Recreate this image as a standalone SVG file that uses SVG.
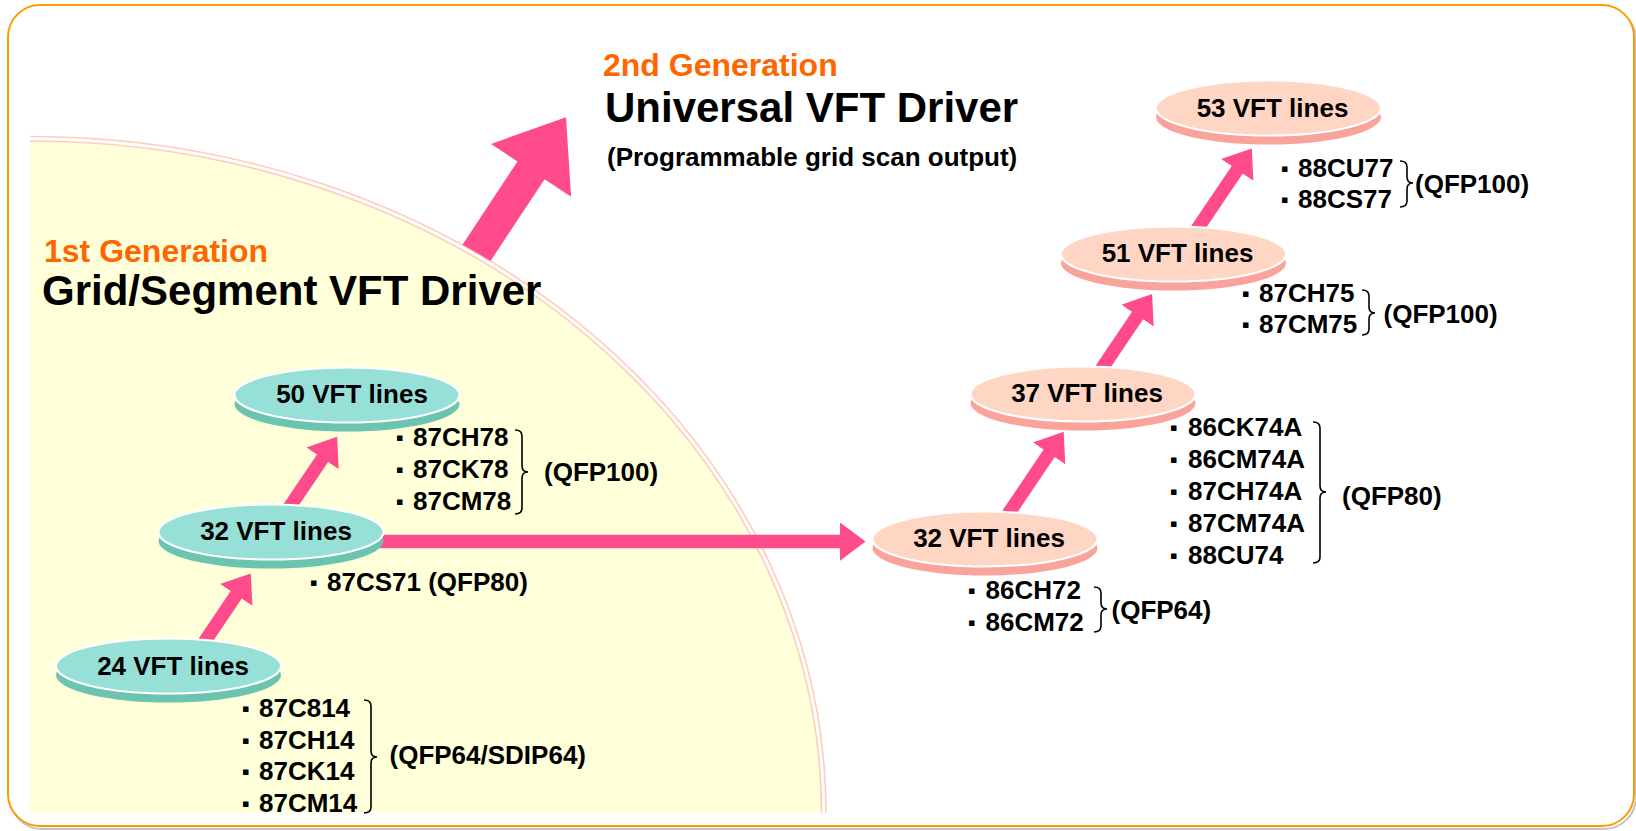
<svg xmlns="http://www.w3.org/2000/svg" width="1636" height="831" viewBox="0 0 1636 831">
<style>
.t{font-family:"Liberation Sans",Arial,Helvetica,sans-serif;font-weight:bold;fill:#000}
.gen{font-size:32px;fill:#FF6600}
.title{font-size:42px}
.sub{font-size:26px}
.nt{font-size:26px;text-anchor:middle}
.it{font-size:26px}
.b{font-family:"DejaVu Sans",sans-serif;font-size:11px;font-weight:normal}
.brace{fill:none;stroke:#000;stroke-width:1.6}
.teal .face{fill:#97E0D7;stroke:#fff;stroke-width:2}
.teal .base{fill:#6AC4AF}
.peach .face{fill:#FFD6C3;stroke:#fff;stroke-width:2}
.peach .base{fill:#FAA39B}
.conn{stroke:#FF4B8C;stroke-width:13.4;fill:none;marker-end:url(#head)}
.arc{fill:none;stroke:#FFCDBE;stroke-width:1.6}
</style>
<defs>
<marker id="head" markerUnits="userSpaceOnUse" markerWidth="30" markerHeight="44" viewBox="0 -22 30 44" refX="1" refY="0" orient="auto">
<path d="M0,-19.5 L26,0 L0,19.5 Z" fill="#FF4B8C"/>
</marker>
</defs>

<g id="frame">
<rect x="10" y="8" width="1626" height="821" rx="32" fill="none" stroke="#C4C4C4" stroke-width="2"/>
<rect x="8" y="5" width="1626" height="821" rx="32" fill="#fff" stroke="#FF9A00" stroke-width="2"/>
</g>

<g id="gen1-area">
<path d="M30,813 L30,140.5 A791.5,672.5 0 0 1 821.5,813 Z" fill="#FFFFD9"/>
<path class="arc" d="M30,136.5 A796,677 0 0 1 826,813"/>
<path class="arc" d="M30,141 A791.5,672.5 0 0 1 821.5,813"/>
</g>

<g id="titles" class="t">
<text class="t gen" x="603" y="76">2nd Generation</text>
<text class="t title" x="605" y="122">Universal VFT Driver</text>
<text class="t sub" x="607" y="166">(Programmable grid scan output)</text>
<text class="t gen" x="44" y="262">1st Generation</text>
<text class="t title" x="42" y="305">Grid/Segment VFT Driver</text>
</g>

<g id="connectors">
<path d="M566,117.3 L571.1,196.7 L544.6,179.2 L490.6,260.9 A796,677 0 0 0 462.5,244.7 L517.5,161.4 L491,143.9 Z" fill="#FF4B8C"/>
<line class="conn" x1="195.6" y1="655" x2="236.8" y2="594.1"/>
<line class="conn" x1="279.4" y1="522.1" x2="323.1" y2="457.5"/>
<line class="conn" x1="375" y1="541.5" x2="840.5" y2="541.5"/>
<line class="conn" x1="998.8" y1="527.9" x2="1049.7" y2="452.5"/>
<line class="conn" x1="1092.2" y1="382.7" x2="1138.1" y2="314.8"/>
<line class="conn" x1="1187.4" y1="243.6" x2="1237.8" y2="169.1"/>
</g>

<g id="node-24" class="teal">
<ellipse class="base" cx="168.5" cy="675" rx="112.5" ry="27.5"/>
<ellipse class="face" cx="168.5" cy="666" rx="112.5" ry="27.5"/>
<text class="t nt" x="173" y="674.5">24 VFT lines</text>
</g>
<g id="node-32a" class="teal">
<ellipse class="base" cx="271" cy="541" rx="112.5" ry="27.5"/>
<ellipse class="face" cx="271" cy="532" rx="112.5" ry="27.5"/>
<text class="t nt" x="276" y="539.5">32 VFT lines</text>
</g>
<g id="node-50" class="teal">
<ellipse class="base" cx="347" cy="404" rx="112.5" ry="27.5"/>
<ellipse class="face" cx="347" cy="395" rx="112.5" ry="27.5"/>
<text class="t nt" x="352" y="403">50 VFT lines</text>
</g>
<g id="node-32b" class="peach">
<ellipse class="base" cx="985" cy="548" rx="112.5" ry="27.5"/>
<ellipse class="face" cx="985" cy="539" rx="112.5" ry="27.5"/>
<text class="t nt" x="989" y="546.5">32 VFT lines</text>
</g>
<g id="node-37" class="peach">
<ellipse class="base" cx="1083" cy="403" rx="112.5" ry="27.5"/>
<ellipse class="face" cx="1083" cy="394" rx="112.5" ry="27.5"/>
<text class="t nt" x="1087" y="401.5">37 VFT lines</text>
</g>
<g id="node-51" class="peach">
<ellipse class="base" cx="1173.5" cy="263" rx="112.5" ry="27.5"/>
<ellipse class="face" cx="1173.5" cy="254" rx="112.5" ry="27.5"/>
<text class="t nt" x="1177.5" y="261.5">51 VFT lines</text>
</g>
<g id="node-53" class="peach">
<ellipse class="base" cx="1268.5" cy="117" rx="112.5" ry="27.5"/>
<ellipse class="face" cx="1268.5" cy="108" rx="112.5" ry="27.5"/>
<text class="t nt" x="1272.5" y="117">53 VFT lines</text>
</g>

<g id="list-50">
<text class="t it"><tspan class="b" x="396" y="441">▪</tspan><tspan x="413" y="446">87CH78</tspan></text>
<text class="t it"><tspan class="b" x="396" y="472.5">▪</tspan><tspan x="413" y="477.5">87CK78</tspan></text>
<text class="t it"><tspan class="b" x="396" y="504.5">▪</tspan><tspan x="413" y="509.5">87CM78</tspan></text>
<path class="brace" d="M515,430 Q522,430 522,436 L522,466 Q522,472 528,472 Q522,472 522,478 L522,508 Q522,514 515,514"/>
<text class="t it" x="544" y="481">(QFP100)</text>
</g>
<g id="list-32a">
<text class="t it"><tspan class="b" x="310" y="586">▪</tspan><tspan x="327" y="591">87CS71 (QFP80)</tspan></text>
</g>
<g id="list-24">
<text class="t it"><tspan class="b" x="242" y="711.5">▪</tspan><tspan x="259" y="716.5">87C814</tspan></text>
<text class="t it"><tspan class="b" x="242" y="743.5">▪</tspan><tspan x="259" y="748.5">87CH14</tspan></text>
<text class="t it"><tspan class="b" x="242" y="775">▪</tspan><tspan x="259" y="780">87CK14</tspan></text>
<text class="t it"><tspan class="b" x="242" y="807">▪</tspan><tspan x="259" y="812">87CM14</tspan></text>
<path class="brace" d="M364,700 Q371,700 371,706 L371,751 Q371,757 377,757 Q371,757 371,763 L371,807 Q371,813 364,813"/>
<text class="t it" x="389.5" y="763.5">(QFP64/SDIP64)</text>
</g>
<g id="list-32b">
<text class="t it"><tspan class="b" x="968" y="594.3">▪</tspan><tspan x="985.5" y="599.3">86CH72</tspan></text>
<text class="t it"><tspan class="b" x="968" y="625.7">▪</tspan><tspan x="985.5" y="630.7">86CM72</tspan></text>
<path class="brace" d="M1094,587 Q1101,587 1101,593 L1101,603 Q1101,609 1107,609 Q1101,609 1101,615 L1101,626 Q1101,632 1094,632"/>
<text class="t it" x="1111.5" y="618.5">(QFP64)</text>
</g>
<g id="list-37">
<text class="t it"><tspan class="b" x="1170" y="431">▪</tspan><tspan x="1188" y="436">86CK74A</tspan></text>
<text class="t it"><tspan class="b" x="1170" y="463.3">▪</tspan><tspan x="1188" y="468.3">86CM74A</tspan></text>
<text class="t it"><tspan class="b" x="1170" y="495">▪</tspan><tspan x="1188" y="500">87CH74A</tspan></text>
<text class="t it"><tspan class="b" x="1170" y="527.3">▪</tspan><tspan x="1188" y="532.3">87CM74A</tspan></text>
<text class="t it"><tspan class="b" x="1170" y="559.3">▪</tspan><tspan x="1188" y="564.3">88CU74</tspan></text>
<path class="brace" d="M1313,422 Q1320,422 1320,428 L1320,486 Q1320,492 1326,492 Q1320,492 1320,498 L1320,557 Q1320,563 1313,563"/>
<text class="t it" x="1342" y="504.5">(QFP80)</text>
</g>
<g id="list-51">
<text class="t it"><tspan class="b" x="1242" y="296.7">▪</tspan><tspan x="1259" y="301.7">87CH75</tspan></text>
<text class="t it"><tspan class="b" x="1242" y="328.3">▪</tspan><tspan x="1259" y="333.3">87CM75</tspan></text>
<path class="brace" d="M1362,290 Q1369,290 1369,296 L1369,307 Q1369,313 1375,313 Q1369,313 1369,319 L1369,329 Q1369,335 1362,335"/>
<text class="t it" x="1383.5" y="323">(QFP100)</text>
</g>
<g id="list-53">
<text class="t it"><tspan class="b" x="1281" y="171.7">▪</tspan><tspan x="1298" y="176.7">88CU77</tspan></text>
<text class="t it"><tspan class="b" x="1281" y="203.3">▪</tspan><tspan x="1298" y="208.3">88CS77</tspan></text>
<path class="brace" d="M1400,161 Q1407,161 1407,167 L1407,177 Q1407,183 1413,183 Q1407,183 1407,189 L1407,201 Q1407,207 1400,207"/>
<text class="t it" x="1415" y="193.3">(QFP100)</text>
</g>
</svg>
